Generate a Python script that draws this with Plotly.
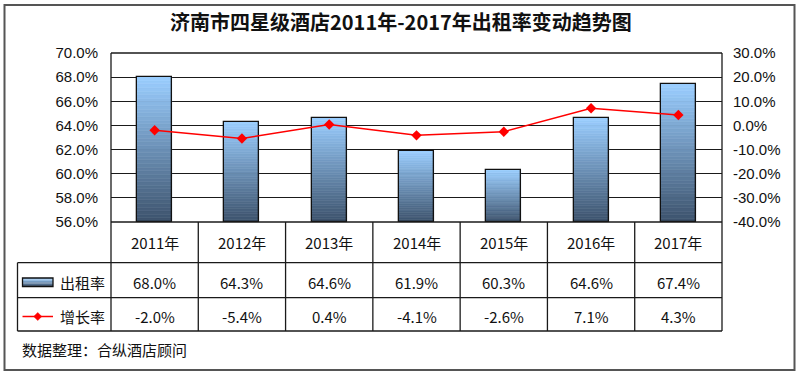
import plotly.graph_objects as go

# ---- data ----
years = ["2011年", "2012年", "2013年", "2014年", "2015年", "2016年", "2017年"]
occupancy = [68.0, 64.3, 64.6, 61.9, 60.3, 64.6, 67.4]
growth = [-2.0, -5.4, 0.4, -4.1, -2.6, 7.1, 4.3]
series_names = ["出租率", "增长率"]
title_text = "济南市四星级酒店2011年-2017年出租率变动趋势图"
source_text = "数据整理：合纵酒店顾问"
left_ticks = [56, 58, 60, 62, 64, 66, 68, 70]
right_ticks = [-40, -30, -20, -10, 0, 10, 20, 30]
left_tick_labels = [f"{v:.1f}%" for v in left_ticks]
right_tick_labels = [f"{v:.1f}%" for v in right_ticks]

W, H = 800, 376
L, R, T, B = 111, 722, 53, 222  # plot area in px
CJK = "Noto Sans CJK SC, Microsoft YaHei, sans-serif"
ARIAL = "Liberation Sans, Arial, sans-serif"


def px(x):
    return (x - L) / (R - L)


def py(y):
    return (B - y) / (B - T)


def lerp_color(c1, c2, t):
    a = [int(c1[i:i + 2], 16) for i in (1, 3, 5)]
    b = [int(c2[i:i + 2], 16) for i in (1, 3, 5)]
    return "#%02x%02x%02x" % tuple(round(a[k] + (b[k] - a[k]) * t) for k in range(3))


bottom_col, top_col = "#3E546E", "#9ACDFE"
fig = go.Figure()

N = 40
base0 = left_ticks[0]
for i in range(N):
    col = lerp_color(bottom_col, top_col, i / (N - 1))
    fig.add_trace(go.Bar(
        x=years,
        y=[(v - base0) / N for v in occupancy],
        base=[base0 + (v - base0) * i / N for v in occupancy],
        width=0.4,
        marker=dict(color=col, line=dict(color=col, width=0.6)),
        showlegend=False, hoverinfo="skip",
    ))
# outline
fig.add_trace(go.Bar(
    x=years, y=[v - base0 for v in occupancy], base=base0, width=0.4,
    marker=dict(color="rgba(0,0,0,0)", line=dict(color="#111111", width=1.3)),
    name=series_names[0], showlegend=False,
))
fig.add_trace(go.Scatter(
    x=years, y=growth, yaxis="y2", mode="lines+markers",
    line=dict(color="#FF0000", width=1.5),
    marker=dict(symbol="diamond", size=8, color="#FF0000"),
    name=series_names[1], showlegend=False,
))

shapes = []
def hline(y, x0, x1, w=1.3, c="#1a1a1a"):
    shapes.append(dict(type="line", xref="paper", yref="paper", x0=px(x0), x1=px(x1),
                       y0=py(y), y1=py(y), line=dict(color=c, width=w)))
def vline(x, y0, y1, w=1.3, c="#1a1a1a"):
    shapes.append(dict(type="line", xref="paper", yref="paper", x0=px(x), x1=px(x),
                       y0=py(y0), y1=py(y1), line=dict(color=c, width=w)))

n = len(years)
cw = (R - L) / n
row_y = [B, 262.7, 297.7, 331]
left_x = 17.5
hline(T, L, R)
hline(B, L, R)
for yy in row_y[1:]:
    hline(yy, left_x, R)
for k in range(n + 1):
    x = L + k * cw
    top = T if k in (0, n) else B
    vline(x, top, row_y[-1])
vline(left_x, row_y[1], row_y[-1])

# outer frame
shapes.append(dict(type="rect", xref="paper", yref="paper", x0=px(4.5), x1=px(794.5),
                   y0=py(5), y1=py(370), line=dict(color="#555555", width=2)))

# legend symbols
lx0, lx1 = 22.5, 53
ly0, ly1 = 278, 286.5
S = 6
for i in range(S):
    col = lerp_color(top_col, bottom_col, i / (S - 1))
    shapes.append(dict(type="rect", xref="paper", yref="paper", x0=px(lx0), x1=px(lx1),
                       y0=py(ly0 + (ly1 - ly0) * i / S), y1=py(ly0 + (ly1 - ly0) * (i + 1) / S),
                       fillcolor=col, line=dict(width=0)))
shapes.append(dict(type="rect", xref="paper", yref="paper", x0=px(lx0), x1=px(lx1),
                   y0=py(ly0), y1=py(ly1), line=dict(color="#111111", width=1.3)))
ry = 316.5
shapes.append(dict(type="line", xref="paper", yref="paper", x0=px(lx0), x1=px(lx1),
                   y0=py(ry), y1=py(ry), line=dict(color="#FF0000", width=1.5)))
cx, d = (lx0 + lx1) / 2, 4
path = "M {},{} L {},{} L {},{} L {},{} Z".format(
    px(cx - d), py(ry), px(cx), py(ry - d), px(cx + d), py(ry), px(cx), py(ry + d))
shapes.append(dict(type="path", xref="paper", yref="paper", path=path,
                   fillcolor="#FF0000", line=dict(color="#FF0000", width=0.5)))

ann = []
tf = dict(family=CJK, size=15, color="#111111")
for i, yr in enumerate(years):
    ann.append(dict(x=yr, xref="x", y=py(242), yref="paper", text=yr, showarrow=False,
                    font=tf, xanchor="center", yanchor="middle"))
    ann.append(dict(x=yr, xref="x", y=py(282), yref="paper", text=f"{occupancy[i]:.1f}%",
                    showarrow=False, font=tf, xanchor="center", yanchor="middle"))
    ann.append(dict(x=yr, xref="x", y=py(316.5), yref="paper", text=f"{growth[i]:.1f}%",
                    showarrow=False, font=tf, xanchor="center", yanchor="middle"))
ann.append(dict(x=px(58), xref="paper", y=py(282), yref="paper", text=series_names[0],
                showarrow=False, font=tf, xanchor="left", yanchor="middle"))
ann.append(dict(x=px(58), xref="paper", y=py(316.5), yref="paper", text=series_names[1],
                showarrow=False, font=tf, xanchor="left", yanchor="middle"))
ann.append(dict(x=px(20), xref="paper", y=py(349), yref="paper", text=source_text,
                showarrow=False, font=tf, xanchor="left", yanchor="middle"))
ann.append(dict(x=px(401), xref="paper", y=py(22), yref="paper", text="<b>" + title_text + "</b>",
                showarrow=False, font=dict(family=CJK, size=20, color="#111111"),
                xanchor="center", yanchor="middle"))

axis_font = dict(family=ARIAL, size=15, color="#111111")
fig.update_layout(
    width=W, height=H,
    margin=dict(l=L, r=W - R, t=T, b=H - B, pad=0),
    paper_bgcolor="white", plot_bgcolor="white",
    barmode="overlay", bargap=0,
    showlegend=False,
    xaxis=dict(type="category", range=[-0.5, n - 0.5], showticklabels=False,
               showgrid=False, zeroline=False, showline=False, ticks=""),
    yaxis=dict(range=[left_ticks[0], left_ticks[-1]], tickmode="array",
               tickvals=left_ticks, ticktext=left_tick_labels,
               showgrid=True, gridcolor="#1a1a1a", gridwidth=1.2, zeroline=False,
               showline=False, ticks="", tickfont=axis_font, ticklabelstandoff=12),
    yaxis2=dict(range=[right_ticks[0], right_ticks[-1]], tickmode="array",
                tickvals=right_ticks, ticktext=right_tick_labels,
                overlaying="y", side="right", showgrid=False, zeroline=False,
                showline=False, ticks="", tickfont=axis_font, ticklabelstandoff=10),
    shapes=shapes, annotations=ann,
)

fig.write_html("out.html", config={"displayModeBar": False},
               post_script="document.body.style.margin='0';document.body.style.overflow='hidden';")
